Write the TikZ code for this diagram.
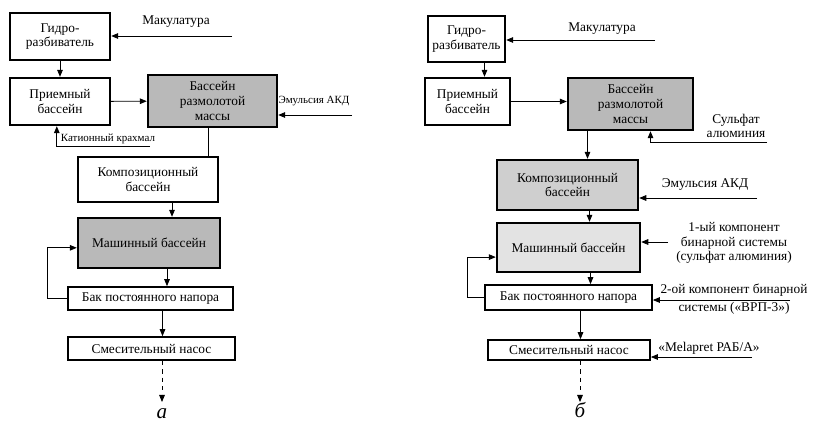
\documentclass[tikz,border=0pt]{standalone}
\usepackage{fontspec}
\setmainfont{Liberation Serif}
\usetikzlibrary{arrows.meta}

\begin{document}
\begin{tikzpicture}[x=0.025cm, y=-0.025cm,
    every node/.style={font=\fontsize{9.5}{10.5}\selectfont, align=center},
    box/.style={draw, line width=1.7pt, inner sep=1pt},
    thinbox/.style={draw, line width=1.2pt, inner sep=1pt},
    darkbox/.style={box, fill=gray!55},
    midbox/.style={box, fill=gray!38},
    lightbox/.style={box, fill=gray!22},
    small/.style={font=\fontsize{7.8}{9}\selectfont},
    feed/.style={line width=0.6pt},
    caption/.style={font=\fontsize{15}{15}\selectfont\itshape},
    >={Triangle[length=5pt,width=4pt]}]
      \useasboundingbox (0,0) rectangle (815,422);
      % scheme a
      \node [box, minimum width=2.5cm, minimum height=1.175cm] (gidroA) at (60,36.5) {Гидро-\\разбиватель};
      \node [box, minimum width=2.5cm, minimum height=1.175cm] (priemA) at (60,101.5) {Приемный\\бассейн};
      \node [darkbox, minimum width=3.225cm, minimum height=1.3cm] (bassA) at (212.5,101) {Бассейн\\размолотой\\массы};
      \node [box, minimum width=3.5cm, minimum height=1.125cm] (kompA) at (148,179.5) {Композиционный\\бассейн};
      \node [darkbox, minimum width=3.55cm, minimum height=1.25cm] (mashA) at (149,243) {Машинный бассейн};
      \node [thinbox, minimum width=4.125cm, minimum height=0.575cm] (bakA) at (150.5,298.5) {Бак постоянного напора};
      \node [thinbox, minimum width=4.175cm, minimum height=0.575cm] (smesA) at (151.5,348.5) {Смесительный насос};
      \node (makA) at (176,22) {Макулатура};
      \node [small] (emA) at (314,101) {Эмульсия АКД};
      \node [small] (krA) at (108,139) {Катионный крахмал};
      \coordinate (makAend) at (232,36);
      \coordinate (emAend) at (352,115);
      \coordinate (krAend) at (150,146);
      \coordinate (outA) at (162,402);
      \draw [feed, ->] (makAend) -- (makAend -| gidroA.east);
      \draw [feed, ->] (emAend) -- (emAend -| bassA.east);
      \draw [feed, ->] (krAend) -| ([xshift=-0.08cm]priemA.south);
      \draw [feed, ->] (gidroA) -- (priemA);
      \draw [feed, ->] (priemA) -- (bassA);
      \draw [feed] ([xshift=-0.1cm]bassA.south) -- ([xshift=-0.1cm]bassA.south |- kompA.north);
      \draw [feed, ->] ([xshift=0.6cm]kompA.south) -- ([xshift=0.6cm]kompA.south |- mashA.north);
      \draw [feed, ->] ([xshift=0.45cm]mashA.south) -- ([xshift=0.45cm]mashA.south |- bakA.north);
      \draw [feed, ->] ([xshift=0.3cm]bakA.south) -- ([xshift=0.3cm]bakA.south |- smesA.north);
      \draw [feed, ->] (bakA.west) -- ++(-20,0) |- ([yshift=-0.12cm]mashA.west);
      \draw [feed, ->, dashed] (outA |- smesA.south) -- (outA);
      \node [caption] (capA) at (162,414) {а};
      % scheme b
      \node [box, minimum width=1.925cm, minimum height=1.15cm] (gidroB) at (466.5,39) {Гидро-\\разбиватель};
      \node [box, minimum width=2.125cm, minimum height=1.175cm] (priemB) at (467.5,101.5) {Приемный\\бассейн};
      \node [darkbox, minimum width=3.125cm, minimum height=1.3cm] (bassB) at (630.5,104) {Бассейн\\размолотой\\массы};
      \node [midbox, minimum width=3.525cm, minimum height=1.25cm] (kompB) at (567.5,185) {Композиционный\\бассейн};
      \node [lightbox, minimum width=3.575cm, minimum height=1.225cm] (mashB) at (568.5,247.5) {Машинный бассейн};
      \node [thinbox, minimum width=4.175cm, minimum height=0.625cm] (bakB) at (568.5,297.5) {Бак постоянного напора};
      \node [thinbox, minimum width=4.05cm, minimum height=0.5cm] (smesB) at (569,350) {Смесительный насос};
      \node (makB) at (602,29) {Макулатура};
      \node (sulfB) at (736,126) {Сульфат\\алюминия};
      \node (emB) at (705,185) {Эмульсия АКД};
      \node (comp1B) at (734,243) {1-ый компонент\\бинарной системы\\(сульфат алюминия)};
      \node (comp2B) at (734,299) {2-ой компонент бинарной\\[2.5pt]системы («ВРП-3»)};
      \node (melB) at (709,348) {«Melapret РАБ/А»};
      \coordinate (makBend) at (655,40);
      \coordinate (sulfBend) at (767,142);
      \coordinate (emBend) at (757,198);
      \coordinate (comp1Bend) at (668,242);
      \coordinate (comp2Bend) at (790,300);
      \coordinate (melBend) at (752,357);
      \coordinate (outB) at (580,402);
      \draw [feed, ->] (makBend) -- (makBend -| gidroB.east);
      \draw [feed, ->] (sulfBend) -| ([xshift=0.5cm]bassB.south);
      \draw [feed, ->] (emBend) -- (emBend -| kompB.east);
      \draw [feed, ->] (comp1Bend) -- (comp1Bend -| mashB.east);
      \draw [feed, ->] (comp2Bend) -- (comp2Bend -| bakB.east);
      \draw [feed, ->] (melBend) -- (melBend -| smesB.east);
      \draw [feed, ->] ([xshift=0.45cm]gidroB.south) -- ([xshift=0.45cm]gidroB.south |- priemB.north);
      \draw [feed, ->] (priemB) -- (priemB -| bassB.west);
      \draw [feed, ->] ([xshift=0.5cm]kompB.north |- bassB.south) -- ([xshift=0.5cm]kompB.north);
      \draw [feed, ->] ([xshift=0.55cm]kompB.south) -- ([xshift=0.55cm]kompB.south |- mashB.north);
      \draw [feed, ->] ([xshift=0.55cm]mashB.south) -- ([xshift=0.55cm]mashB.south |- bakB.north);
      \draw [feed, ->] ([xshift=0.3cm]bakB.south) -- ([xshift=0.3cm]bakB.south |- smesB.north);
      \draw [feed, ->] (bakB.west) -- ++(-17,0) |- ([yshift=-0.24cm]mashB.west);
      \draw [feed, ->, dashed] (outB |- smesB.south) -- (outB);
      \node [caption] (capB) at (580,410) {б};
\end{tikzpicture}
\end{document}
